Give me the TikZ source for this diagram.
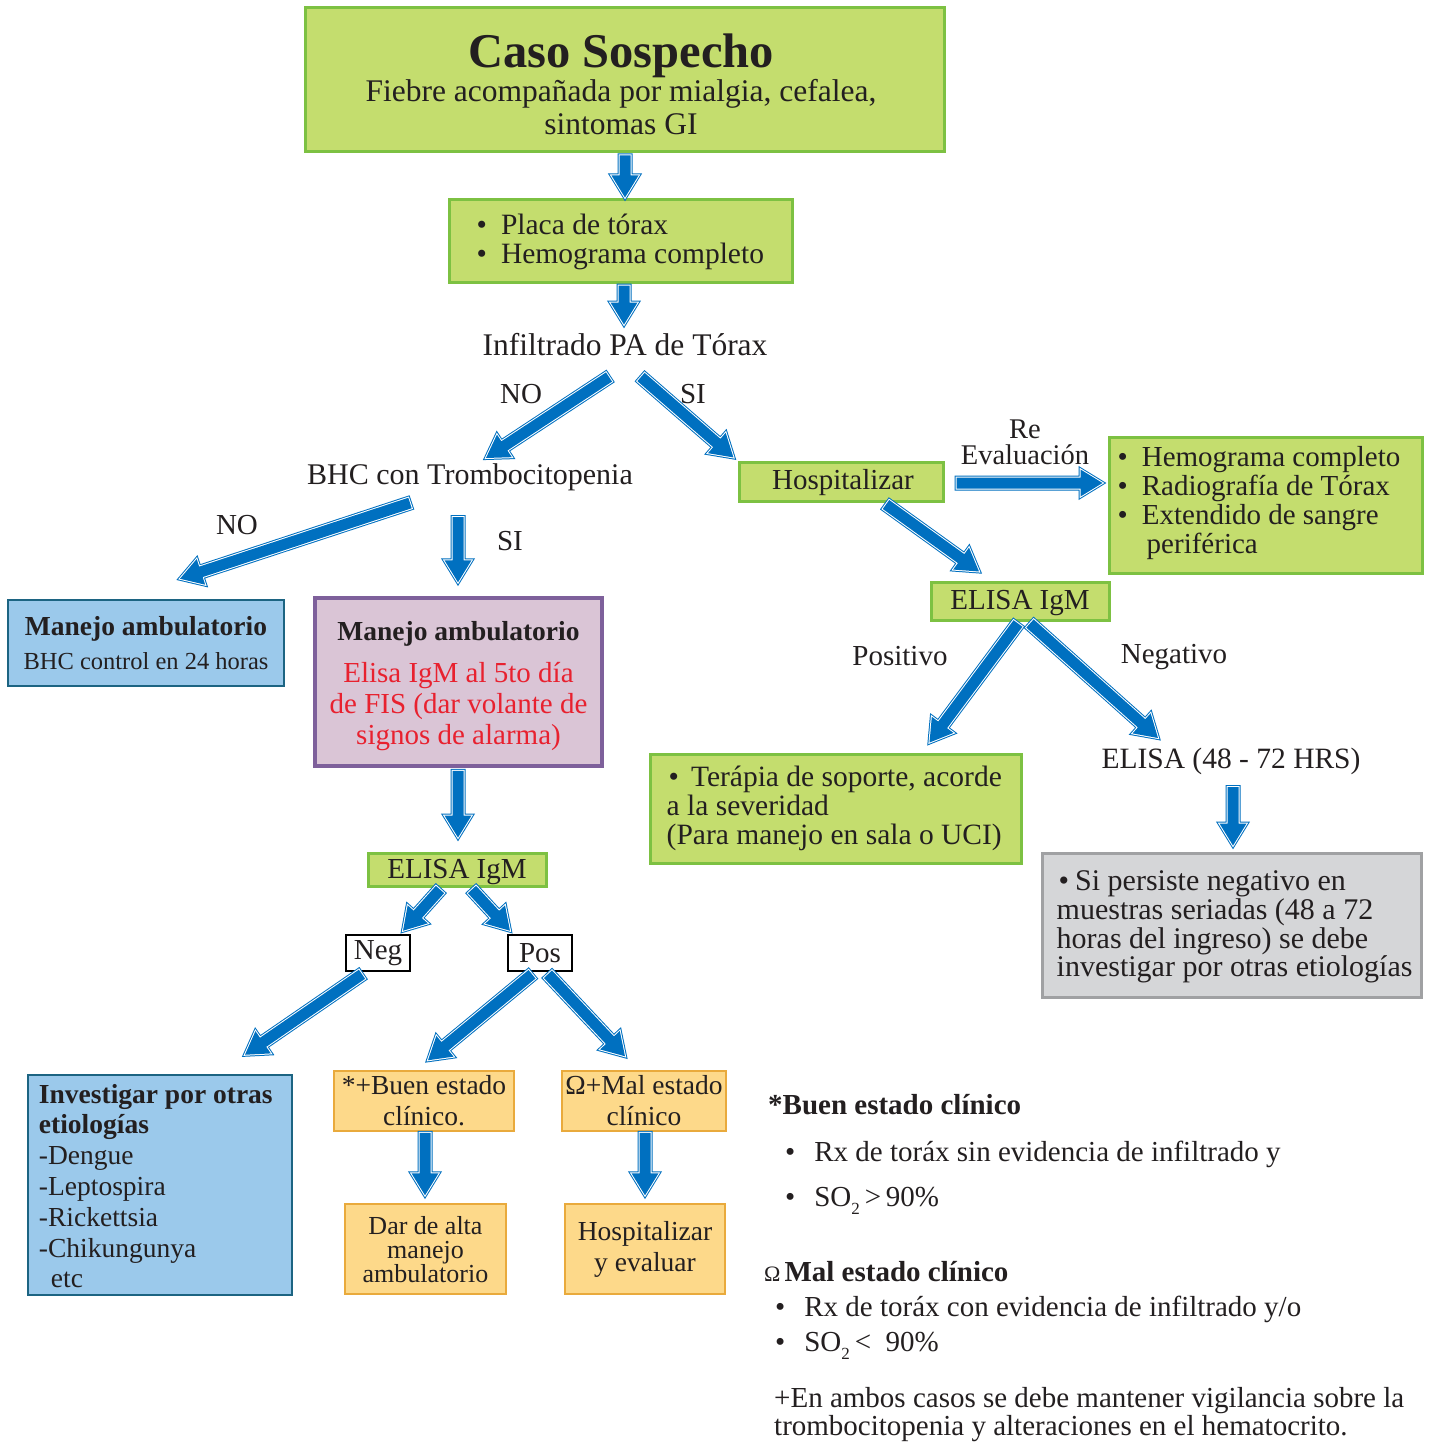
\documentclass[tikz,border=0pt]{standalone}
\usepackage{fontspec}
\setmainfont{Liberation Serif}
\usetikzlibrary{calc}
\definecolor{gfill}{RGB}{196,221,110}
\definecolor{gline}{RGB}{125,193,66}
\definecolor{bfill}{RGB}{155,201,235}
\definecolor{bline}{RGB}{28,100,130}
\definecolor{pfill}{RGB}{218,197,214}
\definecolor{pline}{RGB}{126,96,155}
\definecolor{ofill}{RGB}{253,217,138}
\definecolor{oline}{RGB}{233,170,60}
\definecolor{grfill}{RGB}{213,214,216}
\definecolor{grline}{RGB}{160,161,163}
\definecolor{arrblue}{RGB}{0,112,192}
\definecolor{redtxt}{RGB}{232,33,47}
\definecolor{txt}{RGB}{35,31,32}
\newcommand\fsz[2]{\fontsize{#1}{#2}\selectfont}
\newcommand\barrow[2]{%
  \path #1 coordinate (bas) #2 coordinate (bae);
  \pgfpointdiff{\pgfpointanchor{bas}{center}}{\pgfpointanchor{bae}{center}}%
  \pgfgetlastxy{\bax}{\bay}%
  \pgfmathsetmacro\baang{atan2(\bay,\bax)}%
  \pgfmathsetmacro\balen{veclen(\bax,\bay)}%
  \pgfmathsetmacro\babase{\balen-22}%
  \path[shift={(bas)}, rotate=\baang, draw=arrblue, line width=4pt, line join=miter,
        postaction={draw=white, line width=2pt, line join=miter},
        postaction={fill=arrblue, draw=none}]
    (0pt,-5.5pt) -- (\babase pt,-5.5pt) -- (\babase pt,-13.5pt) -- (\balen pt,0pt)
    -- (\babase pt,13.5pt) -- (\babase pt,5.5pt) -- (0pt,5.5pt) -- cycle;
}
\tikzset{
  every node/.style={font=\fsz{29}{30}, text=txt, inner sep=0pt},
  gbox/.style={draw=gline, fill=gfill, line width=3pt},
  bbox/.style={draw=bline, fill=bfill, line width=2.5pt},
  pbox/.style={draw=pline, fill=pfill, line width=3.5pt},
  obox/.style={draw=oline, fill=ofill, line width=1.5pt},
  grbox/.style={draw=grline, fill=grfill, line width=3pt},
  wbox/.style={draw=black, fill=white, line width=2.5pt},
  sz/.style 2 args={minimum width=#1pt, minimum height=#2pt},
}
\begin{document}
\begin{tikzpicture}[x=1pt,y=-1pt]
\useasboundingbox[fill=white] (0,0) rectangle (1430,1442);

% ---------- boxes ----------
\node[gbox, sz={639}{144}] (caso) at (624.5,80) {};
\node[align=center, font=\fsz{31.5}{33}] (casot) at (621,84)
  {{\fsz{48.5}{50}\bfseries Caso Sospecho}\\[1pt]
   Fiebre acompañada por mialgia, cefalea,\\ sintomas GI};

\node[gbox, sz={343}{82}] (placa) at (620.5,241) {};
\node[anchor=west, align=left, font=\fsz{29.5}{29}] (placat) at ($(placa.west)+(29,1)$)
  {\textbullet\hspace{14pt}Placa de tórax\\ \textbullet\hspace{14pt}Hemograma completo};

\node[font=\fsz{31.5}{33}] (infil) at (625,345) {Infiltrado PA de Tórax};
\node[font=\fsz{30}{32}] (bhc) at (470,477) {BHC con Trombocitopenia};

\node[bbox, sz={276}{86}, align=center] (man1) at (146,643)
  {\textbf{\fsz{27.5}{30}Manejo ambulatorio}\\[4pt]{\fsz{24.5}{28}BHC control en 24 horas}};

\node[pbox, sz={287}{168}] (man2) at (458.5,682) {};
\node[align=center] (man2t) at (458.5,686)
  {\textbf{\fsz{27.5}{30}Manejo ambulatorio}\\[12pt]
   \textcolor{redtxt}{Elisa IgM al 5to día}\\[1pt]
   \textcolor{redtxt}{de FIS (dar volante de}\\[1pt]
   \textcolor{redtxt}{signos de alarma)}};

\node[gbox, sz={178}{33}] (elisa1) at (457,869.5) {};
\node (elisa1t) at (457,872) {ELISA IgM};
\node[wbox, sz={64}{36}] (neg) at (378,953) {Neg};
\node[wbox, sz={64}{36}] (pos) at (540,953) {Pos};

\node[bbox, sz={264}{220}] (inv) at (160,1185) {};
\node[anchor=west, align=left, font=\fsz{27.5}{30.8}] (invt) at ($(inv.west)+(12,1)$)
  {\textbf{Investigar por otras}\\ \textbf{etiologías}\\ -Dengue\\ -Leptospira\\ -Rickettsia\\ -Chikungunya\\ \hspace*{12pt}etc};

\node[obox, sz={180}{60}, align=center, font=\fsz{27.5}{31}] (buen) at (424,1101) {*+Buen estado\\ clínico.};
\node[obox, sz={164}{60}, align=center, font=\fsz{27.5}{31}] (mal) at (644,1101) {Ω+Mal estado\\ clínico};
\node[obox, sz={161}{90}] (alta) at (425.5,1249) {};
\node[align=center, font=\fsz{26}{23.5}] (altat) at (425.5,1250) {Dar de alta\\ manejo\\ ambulatorio};
\node[obox, sz={160}{90}, align=center, font=\fsz{27.5}{31}] (hosp2) at (645,1249) {Hospitalizar\\ y evaluar};

\node[gbox, sz={204}{39}] (hosp) at (841,481.5) {};
\node (hospt) at (843,483) {Hospitalizar};
\node[align=center, font=\fsz{28.5}{26}] (reev) at (1025,442) {Re\\ Evaluación};

\node[gbox, sz={313}{136}] (rev) at (1265.5,505) {};
\node[anchor=west, align=left, font=\fsz{29}{29}] (revt) at ($(rev.west)+(10,-2)$)
  {\textbullet\hspace{14pt}Hemograma completo\\ \textbullet\hspace{14pt}Radiografía de Tórax\\ \textbullet\hspace{14pt}Extendido de sangre\\ \hspace*{29pt}periférica};

\node[gbox, sz={178}{38}] (elisa2) at (1020,601) {};
\node (elisa2t) at (1020,603.5) {ELISA IgM};

\node[gbox, sz={371}{109}] (ter) at (835.5,808.5) {};
\node[anchor=west, align=left, font=\fsz{29.5}{29}] (tert) at ($(ter.west)+(18,0)$)
  {\hspace*{2pt}\textbullet\hspace{12pt}Terápia de soporte, acorde\\ a la severidad\\ (Para manejo en sala o UCI)};

\node[font=\fsz{29.5}{30}] (e48) at (1231,761) {ELISA (48 - 72 HRS)};

\node[grbox, sz={379}{144}] (gray) at (1231.5,925) {};
\node[anchor=west, align=left, font=\fsz{30}{28.7}] (grayt) at ($(gray.west)+(16,2)$)
  {\hspace*{2pt}\textbullet\hspace{6pt}Si persiste negativo en\\ muestras seriadas (48 a 72\\ horas del ingreso) se debe\\ investigar por otras etiologías};

% ---------- labels ----------
\node (lno1) at (521,394) {NO};
\node (lsi1) at (693,394) {SI};
\node (lno2) at (237,525) {NO};
\node (lsi2) at (510,541) {SI};
\node (lpos) at (900,656) {Positivo};
\node (lneg) at (1174,657) {Negativo};

% ---------- legend ----------
\node[anchor=west] (lg1) at (768,1105) {\textbf{*Buen estado clínico}};
\node[anchor=west] (lg2) at (785,1154) {\textbullet\hspace{19pt}Rx de toráx sin evidencia de infiltrado y};
\node[anchor=west] (lg3) at (785,1201) {\textbullet\hspace{19pt}SO\raisebox{-8pt}{\fsz{17}{17}2}\,>\,90\%};
\node[anchor=west] (lg4) at (764,1272) {{\fsz{22}{22}Ω}\hspace{4pt}\textbf{Mal estado clínico}};
\node[anchor=west] (lg5) at (775,1309) {\textbullet\hspace{19pt}Rx de toráx con evidencia de infiltrado y/o};
\node[anchor=west] (lg6) at (775,1346) {\textbullet\hspace{19pt}SO\raisebox{-8pt}{\fsz{17}{17}2}\,<\ \ 90\%};
\node[anchor=west, align=left, font=\fsz{29}{28}] (lg7) at (774,1415)
  {+En ambos casos se debe mantener vigilancia sobre la\\ trombocitopenia y alteraciones en el hematocrito.};

% ---------- arrows ----------
\barrow{($(caso.south)+(0.5,2)$)}{($(placa.north)+(4.5,-1)$)}
\barrow{($(placa.south)+(3.5,2)$)}{($(placa.south)+(3.5,41)$)}
\barrow{($(infil)+(-16,32)$)}{($(bhc)+(16,-19)$)}
\barrow{($(infil)+(16,32)$)}{($(hosp.north west)+(-4,-3)$)}
\barrow{($(bhc)+(-60,26)$)}{($(man1.north)+(34,-20)$)}
\barrow{($(bhc)+(-12,40)$)}{($(man2.north)+(-0.5,-14)$)}
\barrow{($(man2.south)+(-0.5,3)$)}{($(elisa1.north)+(1,-14)$)}
\barrow{($(elisa1.south)+(-17,2)$)}{($(neg.north)+(25,-3)$)}
\barrow{($(elisa1.south)+(15,2)$)}{($(pos.north)+(-30,-3)$)}
\barrow{($(neg.south)+(-16,2)$)}{($(inv.north)+(85,-19)$)}
\barrow{($(pos.south)+(-8,2)$)}{($(buen.north)+(4,-10)$)}
\barrow{($(pos.south)+(8,2)$)}{($(mal.north)+(-19,-14)$)}
\barrow{($(buen.south)+(1,1)$)}{($(alta.north)+(-0.5,-8)$)}
\barrow{($(mal.south)+(1,1)$)}{($(hosp2.north)+(0,-8)$)}
\barrow{($(hosp.east)+(12,1.5)$)}{($(rev.west)+(-5,-22)$)}
\barrow{($(hosp.south)+(45,2)$)}{($(elisa2.north)+(-41,-9)$)}
\barrow{($(elisa2.south)+(-2,2)$)}{($(ter.north)+(94,-10)$)}
\barrow{($(elisa2.south)+(10,2)$)}{($(e48)+(-73,-23)$)}
\barrow{($(e48)+(2,26)$)}{($(gray.north)+(1.5,-6)$)}
\end{tikzpicture}
\end{document}
